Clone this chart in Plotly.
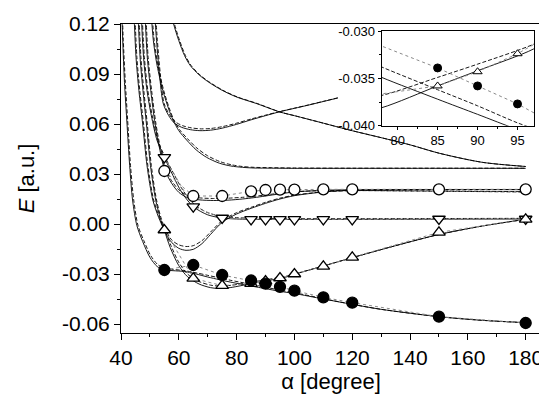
import plotly.graph_objects as go

# ---------------- data ----------------
alpha_pts = [55, 65, 75, 85, 90, 95, 100, 110, 120, 150, 180]
E_filled = [-0.0276, -0.0246, -0.0306, -0.0339, -0.0358, -0.0377, -0.0400, -0.0440, -0.0472, -0.0556, -0.0594]
E_up = [-0.0036, -0.0326, -0.0370, -0.0358, -0.0343, -0.0324, -0.0300, -0.0254, -0.0200, -0.0050, 0.0028]
E_down = [0.0400, 0.0104, 0.0036, 0.0028, 0.0028, 0.0028, 0.0028, 0.0028, 0.0028, 0.0030, 0.0030]
E_open = [0.0318, 0.0168, 0.0168, 0.0196, 0.0204, 0.0206, 0.0206, 0.0208, 0.0208, 0.0208, 0.0208]

# theoretical curves (solid and dashed)
p1_x = [40.2, 40.6, 41.2, 42.0, 43.0, 44.0, 45.5, 47.5, 50.0, 52.5, 55, 58, 62, 66, 70, 74, 78, 85, 90, 95, 100, 110, 120, 130, 150, 165, 180]
p1_y = [0.13, 0.11, 0.085, 0.0624, 0.035, 0.0144, -0.001, -0.0105, -0.0200, -0.0255, -0.0275, -0.0280, -0.0285, -0.0300, -0.0318, -0.0334, -0.0349, -0.0372, -0.0388, -0.0404, -0.0417, -0.0450, -0.0482, -0.0512, -0.0556, -0.0578, -0.0592]
p1d_x = [40.4, 40.8, 41.5, 42.3, 43.3, 44.4, 45.9, 47.9, 50.3, 52.8, 55.3, 58, 62, 66, 70, 74, 78, 85, 90, 95, 100, 110, 120, 130, 150, 165, 180]
p1d_y = [0.13, 0.11, 0.085, 0.0624, 0.035, 0.0144, -0.001, -0.0100, -0.0190, -0.0245, -0.0265, -0.0272, -0.0280, -0.0293, -0.0308, -0.0323, -0.0338, -0.0362, -0.0379, -0.0397, -0.0412, -0.0448, -0.0482, -0.0512, -0.0556, -0.0578, -0.0592]

p2_x = [44.4, 45.2, 46.2, 47.5, 49, 51, 53, 55, 57, 60, 63, 67, 71, 74, 78, 85, 90, 97, 100, 110, 120, 135, 150, 165, 180]
p2_y = [0.13, 0.10, 0.08, 0.06, 0.035, 0.0144, 0.004, -0.004, -0.014, -0.025, -0.0316, -0.0360, -0.0382, -0.0387, -0.0381, -0.0358, -0.0342, -0.0319, -0.0302, -0.0252, -0.0202, -0.0130, -0.0063, -0.0012, 0.0028]
p2d_x = [44.7, 45.5, 46.5, 47.8, 49.3, 51.3, 53.3, 55.3, 57.3, 60, 63, 67, 71, 74, 78, 85, 90, 97, 100, 110, 120, 135, 150, 165, 180]
p2d_y = [0.13, 0.10, 0.08, 0.06, 0.035, 0.0144, 0.004, -0.004, -0.013, -0.023, -0.0300, -0.0345, -0.0367, -0.0372, -0.0368, -0.0349, -0.0335, -0.0314, -0.0300, -0.0252, -0.0202, -0.0130, -0.0063, -0.0012, 0.0028]

s_x = [45.8, 46.6, 47.6, 48.8, 50.2, 52, 53.5, 55, 57.5, 60, 62.5, 65, 68, 71, 75, 80, 85, 90, 95, 100, 110, 120, 140, 180]
s_y = [0.13, 0.10, 0.08, 0.06, 0.035, 0.0144, 0.004, -0.004, -0.0110, -0.0146, -0.0158, -0.0152, -0.0118, -0.0062, 0.0010, 0.0060, 0.0094, 0.0124, 0.0150, 0.0170, 0.0192, 0.0202, 0.0206, 0.0206]
sd_x = [46.1, 46.9, 47.9, 49.1, 50.5, 52.3, 53.8, 55.3, 57.5, 60, 62.5, 65, 68, 71, 75, 80, 85, 90, 95, 100, 110, 120, 140, 180]
sd_y = [0.13, 0.10, 0.08, 0.06, 0.035, 0.0144, 0.004, -0.003, -0.0095, -0.0125, -0.0135, -0.0130, -0.0100, -0.0048, 0.0020, 0.0068, 0.0100, 0.0130, 0.0155, 0.0173, 0.0193, 0.0200, 0.0198, 0.0192]

t_x = [46.9, 47.8, 49, 50.5, 52.5, 55, 58, 61, 65, 70, 75, 80, 90, 120, 180]
t_y = [0.13, 0.10, 0.08, 0.065, 0.050, 0.040, 0.029, 0.019, 0.0104, 0.0055, 0.0036, 0.0030, 0.0028, 0.0028, 0.0030]
td_x = [47.2, 48.1, 49.3, 50.8, 52.8, 55.3, 58.3, 61.3, 65.3, 70, 75, 80, 90, 120, 180]
td_y = [0.13, 0.10, 0.08, 0.065, 0.050, 0.040, 0.030, 0.0205, 0.0118, 0.0068, 0.0046, 0.0038, 0.0033, 0.0032, 0.0034]

r_x = [48.2, 49.1, 50.3, 51.8, 53.5, 55, 57.5, 60, 63, 67, 72, 77, 82, 86, 90, 95, 100, 110, 120, 150, 180]
r_y = [0.13, 0.10, 0.08, 0.060, 0.044, 0.033, 0.0245, 0.019, 0.0158, 0.0145, 0.0141, 0.0143, 0.0150, 0.0158, 0.0168, 0.0181, 0.0192, 0.0202, 0.0206, 0.0207, 0.0207]
rd_x = [48.5, 49.4, 50.6, 52.1, 53.8, 55.3, 57.8, 60.3, 63.3, 67, 72, 77, 82, 86, 90, 95, 100, 110, 120, 150, 180]
rd_y = [0.13, 0.10, 0.08, 0.060, 0.044, 0.033, 0.0252, 0.0200, 0.0168, 0.0157, 0.0153, 0.0155, 0.0160, 0.0166, 0.0174, 0.0185, 0.0194, 0.0200, 0.0201, 0.0198, 0.0194]

q_x = [50.3, 51.2, 52.5, 54.5, 56.5, 58, 60, 62.7, 66, 69.6, 74, 78, 82, 86, 92, 100, 120, 150, 180]
q_y = [0.13, 0.11, 0.095, 0.08, 0.069, 0.0624, 0.056, 0.0504, 0.0445, 0.0400, 0.0365, 0.0348, 0.0340, 0.0336, 0.0335, 0.0334, 0.0334, 0.0334, 0.0334]
qd_x = [50.6, 51.5, 52.8, 54.8, 56.8, 58.3, 60.3, 63, 66.3, 69.9, 74.3, 78.3, 82, 86, 92, 100, 120, 150, 180]
qd_y = [0.13, 0.11, 0.095, 0.08, 0.069, 0.0624, 0.0565, 0.0512, 0.0455, 0.0410, 0.0374, 0.0355, 0.0345, 0.0340, 0.0338, 0.0336, 0.0335, 0.0335, 0.0335]

p6_x = [51.5, 52.3, 53.3, 54.6, 56.5, 58.5, 61, 64, 67.3, 71, 75, 80, 85, 90, 95, 100, 105, 110, 115]
p6_y = [0.13, 0.11, 0.09, 0.0724, 0.0650, 0.0605, 0.0580, 0.0566, 0.0560, 0.0563, 0.0575, 0.0598, 0.0625, 0.0650, 0.0674, 0.0694, 0.0714, 0.0735, 0.0756]
p6d_x = [51.8, 52.6, 53.6, 54.9, 56.8, 58.8, 61.3, 64.3, 67.3, 71, 75, 80, 85, 90, 95, 100, 105, 110, 115]
p6d_y = [0.13, 0.11, 0.09, 0.0724, 0.0655, 0.0613, 0.0590, 0.0577, 0.0571, 0.0573, 0.0584, 0.0605, 0.0630, 0.0653, 0.0675, 0.0695, 0.0715, 0.0736, 0.0757]

p7_x = [57.0, 58.2, 60, 62, 64, 67, 70, 75, 80, 87, 95, 100, 110, 119, 130, 140, 150, 165, 180]
p7_y = [0.13, 0.12, 0.110, 0.101, 0.095, 0.0895, 0.0855, 0.0802, 0.0762, 0.0722, 0.0672, 0.0650, 0.0605, 0.0564, 0.0518, 0.0475, 0.0425, 0.0370, 0.0345]
p7d_x = [57.3, 58.5, 60.3, 62.3, 64.3, 67.3, 70.3, 75.3, 80.3, 87.3, 95, 100, 110, 119, 130, 140, 150, 165, 180]
p7d_y = [0.13, 0.12, 0.110, 0.101, 0.095, 0.0895, 0.0855, 0.0802, 0.0762, 0.0722, 0.0672, 0.0650, 0.0605, 0.0564, 0.0518, 0.0475, 0.0425, 0.0370, 0.0345]

x_tickvals = [40, 60, 80, 100, 120, 140, 160, 180]
y_tickvals = [-0.06, -0.03, 0.0, 0.03, 0.06, 0.09, 0.12]
y_ticktext = ["-0.06", "-0.03", "0.00", "0.03", "0.06", "0.09", "0.12"]
inset_x_tickvals = [80, 85, 90, 95]
inset_y_tickvals = [-0.040, -0.035, -0.030]
inset_y_ticktext = ["-0.040", "-0.035", "-0.030"]

# ---------------- figure ----------------
fig = go.Figure()

solid = dict(color="black", width=0.9, shape="spline", smoothing=0.8)
dashed = dict(color="black", width=0.9, shape="spline", smoothing=0.8, dash="4px,2px")
dotted = dict(color="#8a8a8a", width=1, dash="dot")

curves = [(p1_x, p1_y, p1d_x, p1d_y), (p2_x, p2_y, p2d_x, p2d_y), (s_x, s_y, sd_x, sd_y),
          (t_x, t_y, td_x, td_y), (r_x, r_y, rd_x, rd_y), (q_x, q_y, qd_x, qd_y),
          (p6_x, p6_y, p6d_x, p6d_y), (p7_x, p7_y, p7d_x, p7d_y)]

for ax_x, ax_y in [("x", "y"), ("x2", "y2")]:
    for cx, cy, dx, dy in curves:
        fig.add_trace(go.Scatter(x=dx, y=dy, mode="lines", line=dashed, xaxis=ax_x, yaxis=ax_y, hoverinfo="skip"))
        fig.add_trace(go.Scatter(x=cx, y=cy, mode="lines", line=solid, xaxis=ax_x, yaxis=ax_y, hoverinfo="skip"))

# marker series with dotted connections
series = [(E_open, "circle", "white"), (E_down, "triangle-down", "white"),
          (E_up, "triangle-up", "white"), (E_filled, "circle", "black")]
for ax_x, ax_y, msz in [("x", "y", 11), ("x2", "y2", 8)]:
    for ys, sym, fill in series:
        fig.add_trace(go.Scatter(x=alpha_pts, y=ys, mode="lines", line=dotted,
                                 xaxis=ax_x, yaxis=ax_y, hoverinfo="skip"))
    for ys, sym, fill in series:
        fig.add_trace(go.Scatter(x=alpha_pts, y=ys, mode="markers",
                                 marker=dict(symbol=sym, size=msz, color=fill,
                                             line=dict(color="black", width=1.3 if msz > 8 else 1)),
                                 xaxis=ax_x, yaxis=ax_y, cliponaxis=True))

axis_common = dict(showline=True, linecolor="black", linewidth=1, mirror=True,
                   showgrid=False, zeroline=False, ticks="outside", tickcolor="black",
                   tickwidth=1)

# the page body has an 8px margin, so the figure is shifted by (8, 8)
fig.update_layout(
    width=539, height=393,
    margin=dict(l=113, r=6, t=16, b=68),
    paper_bgcolor="white", plot_bgcolor="white",
    showlegend=False,
    font=dict(family="Arial, Liberation Sans, sans-serif", color="black"),
    xaxis=dict(range=[40, 185.3], tickvals=x_tickvals, ticklen=6,
               tickfont=dict(size=21),
               minor=dict(dtick=10, tick0=40, ticks="outside", ticklen=3, tickcolor="black"),
               title=dict(text="α [degree]", font=dict(size=22), standoff=2),
               automargin=False, **axis_common),
    yaxis=dict(range=[-0.0654, 0.12], tickvals=y_tickvals, ticktext=y_ticktext, ticklen=6,
               tickfont=dict(size=21),
               minor=dict(dtick=0.015, tick0=0, ticks="outside", ticklen=3, tickcolor="black"),
               title=dict(text="<i>E</i> [a.u.]", font=dict(size=22), standoff=21),
               automargin=False, **axis_common),
    xaxis2=dict(domain=[0.6207, 0.984], anchor="y2", range=[78, 97.1],
                tickvals=inset_x_tickvals, ticklen=3, tickfont=dict(size=13),
                minor=dict(dtick=2.5, tick0=80, ticks="outside", ticklen=2, tickcolor="black"),
                automargin=False, **axis_common),
    yaxis2=dict(domain=[0.6709, 0.9773], anchor="x2", range=[-0.040, -0.030],
                tickvals=inset_y_tickvals, ticktext=inset_y_ticktext, ticklen=3,
                tickfont=dict(size=13),
                minor=dict(dtick=0.0025, tick0=-0.04, ticks="outside", ticklen=2, tickcolor="black"),
                automargin=False, **axis_common),
)

fig.write_html("out.html")
